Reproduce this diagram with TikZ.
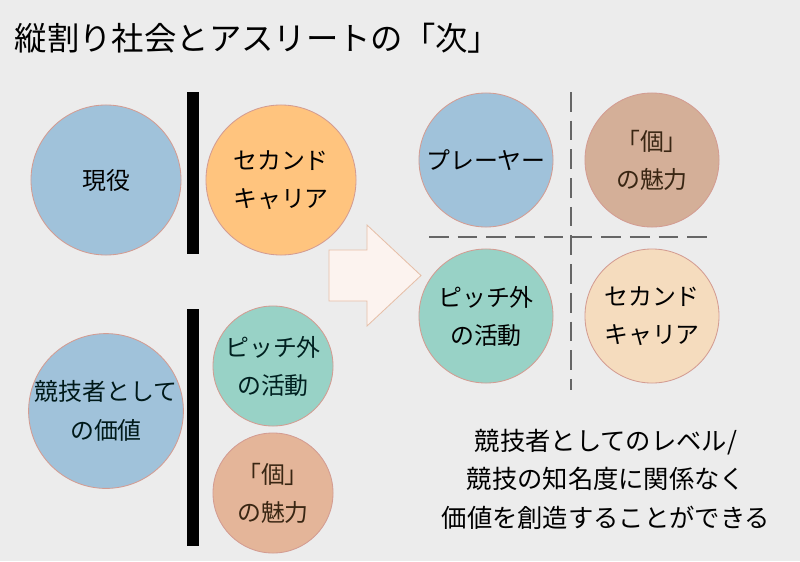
\documentclass[tikz,border=0pt]{standalone}
\usepackage{fontspec}
\setmainfont{Noto Sans CJK JP}
\usepackage{tikz}
\usepackage{xcolor}
\usetikzlibrary{positioning}

\definecolor{bgcol}{HTML}{ECECEC}
\definecolor{bluefill}{HTML}{A0C2DA}
\definecolor{orangefill}{HTML}{FFC47E}
\definecolor{tealfill}{HTML}{98D2C6}
\definecolor{salmonfill}{HTML}{E4B599}
\definecolor{tanfill}{HTML}{D4AF98}
\definecolor{creamfill}{HTML}{F5DCBE}
\definecolor{edgecol}{HTML}{D39C92}
\definecolor{arrowfill}{HTML}{FCF3EF}
\definecolor{arrowedge}{HTML}{E6BFA8}
\definecolor{dashcol}{HTML}{666666}

\tikzset{
  bubble/.style={circle, draw=edgecol, line width=0.6pt, inner sep=0pt,
    align=center, font=\fontsize{17}{27}\selectfont},
  bigbubble/.style={bubble, minimum size=3.75cm},
  smallbubble/.style={bubble, minimum size=3cm},
  gridbubble/.style={bubble, minimum size=3.35cm},
  divider/.style={dashcol, line width=1.4pt, dash pattern=on 14pt off 6.4pt}
}

\begin{document}
\begin{tikzpicture}[x=0.025cm, y=-0.025cm]
    % Background
    \fill[bgcol] (0,0) rectangle (800,561);
    \useasboundingbox (0,0) rectangle (800,561);

    % Title
    \node[anchor=west, font=\fontsize{23}{27}\selectfont] (title) at (10,38) {縦割り社会とアスリートの「次」};

    % Upper left: current player vs second career
    \node[bigbubble, fill=bluefill] (genyaku) at (106,180) {現役};
    \fill[black] (187,92) rectangle (199,254);
    \node[bigbubble, fill=orangefill] (second) at (281,180) {セカンド\\キャリア};

    % Lower left: value as athlete
    \node[bigbubble, fill=bluefill, text=black!80!teal, font=\fontsize{17}{28}\selectfont] (kachi) at (106,411) {競技者として\\の価値};
    \fill[black] (187,309) rectangle (199,546);
    \node[smallbubble, fill=tealfill, text=black!75!teal] (pitch) at (273,366) {ピッチ外\\の活動};
    \node[smallbubble, fill=salmonfill, text=black!70!brown] (ko) at (273,493) {「個」\\の魅力};

    % Block arrow
    \draw[arrowedge, fill=arrowfill, line width=0.6pt]
        (329,250) -- (367,250) -- (367,225) -- (421,275.5) -- (367,326) -- (367,301) -- (329,301) -- cycle;

    % Right grid
    \draw[divider] (571,92) -- (571,390);
    \draw[divider] (429,237) -- (712,237);
    \node[gridbubble, fill=bluefill] (player) at (486,160) {プレーヤー};
    \node[gridbubble, fill=tanfill, text=black!70!brown] (ko2) at (652,160) {「個」\\の魅力};
    \node[gridbubble, fill=tealfill] (pitch2) at (486,316) {ピッチ外\\の活動};
    \node[gridbubble, fill=creamfill] (second2) at (652,316) {セカンド\\キャリア};

    % Summary text
    \node[align=center, font=\fontsize{18}{27.3}\selectfont] (summary) at (606,479)
        {競技者としてのレベル/\\競技の知名度に関係なく\\価値を創造することができる};
\end{tikzpicture}
\end{document}
